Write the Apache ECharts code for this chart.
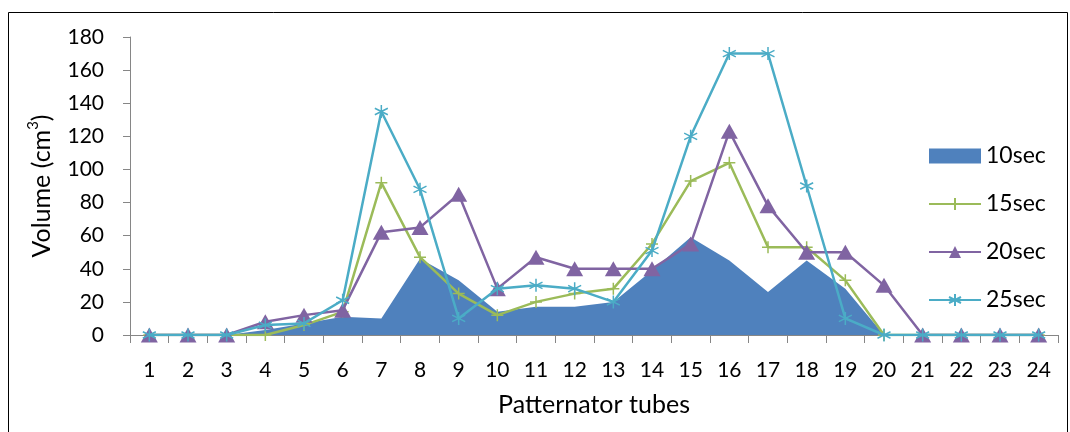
<!DOCTYPE html>
<html>
<head>
<meta charset="utf-8">
<script src="https://cdn.jsdelivr.net/npm/echarts@6/dist/echarts.min.js"></script>
<style>
html,body{margin:0;padding:0;background:#fff;}
#c{width:1070px;height:432px;}
</style>
</head>
<body>
<div id="c"></div>
<script>
const categories = ['1','2','3','4','5','6','7','8','9','10','11','12','13','14','15','16','17','18','19','20','21','22','23','24'];
const s10 = [0,0,0,3,7,11,10,46,33,14,17,17,20,39,59,45,26,45,28,0,0,0,0,0];
const s15 = [0,0,0,0,6,14,92,47,25,12,20,25,28,55,93,104,53,53,33,0,0,0,0,0];
const s20 = [0,0,0,8,12,15,62,65,85,28,47,40,40,40,55,123,78,50,50,30,0,0,0,0];
const s25 = [0,0,0,6,7,21,135,88,10,28,30,28,20,51,120,170,170,90,10,0,0,0,0,0];
const yTicks = [0,20,40,60,80,100,120,140,160,180];

const FONT = "Lato, 'Open Sans', sans-serif";
const C10 = '#4F81BD', C15 = '#9BBB59', C20 = '#8064A2', C25 = '#4BACC6';
const plusPath = 'path://M0,-6L0,6M-6,0L6,0';
const starPath = 'path://M0,-6L0,6M-5.2,-3L5.2,3M-5.2,3L5.2,-3';

const chart = echarts.init(document.getElementById('c'));
chart.setOption({
  animation: false,
  backgroundColor: '#fff',
  textStyle: {fontFamily: FONT},
  graphic: [{
    type: 'rect', shape: {x: 8.5, y: 12.5, width: 1059, height: 430},
    style: {fill: 'none', stroke: '#000', lineWidth: 1}, silent: true, z: -10
  }],
  grid: {left: 130, right: 12, top: 37, bottom: 97, containLabel: false},
  legend: {
    orient: 'vertical', left: 928, top: 144, padding: 0,
    itemWidth: 52, itemHeight: 15, itemGap: 24,
    textStyle: {fontFamily: FONT, fontSize: 23, lineHeight: 24, color: '#000'},
    data: [
      {name: '10sec', icon: 'rect'},
      {name: '15sec'},
      {name: '20sec'},
      {name: '25sec'}
    ]
  },
  xAxis: {
    type: 'category', data: categories, boundaryGap: true,
    name: 'Patternator tubes', nameLocation: 'middle', nameGap: 57,
    nameTextStyle: {fontFamily: FONT, fontSize: 25, color: '#000'},
    axisLine: {lineStyle: {color: '#868686', width: 1}},
    axisTick: {show: true, alignWithLabel: false, length: 8, lineStyle: {color: '#868686'}},
    axisLabel: {fontFamily: FONT, fontSize: 21, color: '#000', margin: 25, interval: 0}
  },
  yAxis: {
    type: 'value', min: 0, max: 180, interval: 20,
    name: '{a|Volume (cm}{s|3}{a|)}', nameLocation: 'middle', nameGap: 76, nameRotate: 90,
    nameTextStyle: {fontFamily: FONT, fontSize: 25, color: '#000',
      rich: {
        a: {fontFamily: FONT, fontSize: 25, color: '#000', verticalAlign: 'bottom', lineHeight: 28},
        s: {fontFamily: FONT, fontSize: 15, color: '#000', verticalAlign: 'top', lineHeight: 28, padding: [0, 0, 11, 0]}
      }},
    axisLine: {show: true, lineStyle: {color: '#868686', width: 1}},
    axisTick: {show: true, length: 7, lineStyle: {color: '#868686'}},
    splitLine: {show: false},
    axisLabel: {fontFamily: FONT, fontSize: 21, color: '#000', margin: 26,
      formatter: v => yTicks.includes(v) ? String(v) : ''}
  },
  series: [
    {name: '10sec', type: 'line', data: s10, symbol: 'none', z: 1,
      itemStyle: {color: C10}, lineStyle: {width: 0, color: C10},
      areaStyle: {color: C10, opacity: 1}},
    {name: '15sec', type: 'line', data: s15, symbol: plusPath, symbolSize: 12, z: 2,
      itemStyle: {color: C15, borderColor: C15, borderWidth: 1.5},
      lineStyle: {width: 2.5, color: C15}},
    {name: '20sec', type: 'line', data: s20, symbol: 'triangle', symbolSize: [17, 15], z: 3,
      itemStyle: {color: C20, borderColor: C20, borderWidth: 0},
      lineStyle: {width: 2.5, color: C20}},
    {name: '25sec', type: 'line', data: s25, symbol: starPath, symbolSize: 13, z: 4,
      itemStyle: {color: C25, borderColor: C25, borderWidth: 1.5},
      lineStyle: {width: 2.5, color: C25}}
  ]
});
</script>
</body>
</html>
